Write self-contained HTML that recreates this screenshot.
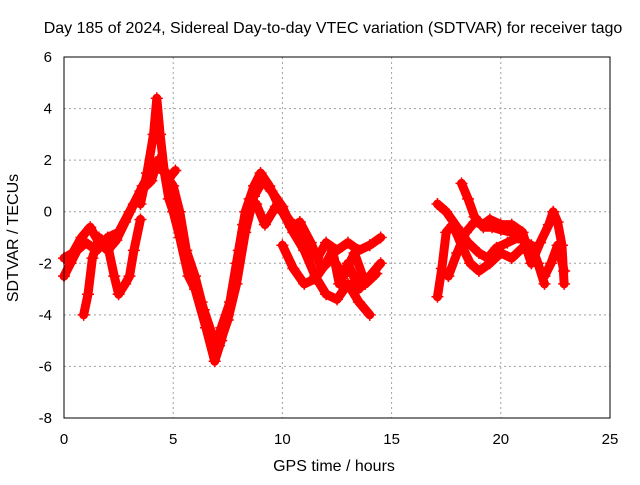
<!DOCTYPE html>
<html><head><meta charset="utf-8"><style>
body{margin:0;background:#fff}
svg{font-family:"Liberation Sans",sans-serif;font-size:15px}
</style></head><body>
<svg width="640" height="480" id="c">
<text x="333" y="33" text-anchor="middle" font-size="16">Day 185 of 2024, Sidereal Day-to-day VTEC variation (SDTVAR) for receiver tago</text>
<text x="334" y="471" text-anchor="middle" font-size="16">GPS time / hours</text>
<text transform="translate(18,238) rotate(-90)" text-anchor="middle" font-size="16">SDTVAR / TECUs</text>
<g id="grid"></g><g id="ticks"></g><g id="data"></g>
<rect x="64" y="57" width="546" height="361" fill="none" stroke="#000" stroke-width="1"/>
</svg>
<script>
const xTicks=[0,5,10,15,20,25];
const yTicks=[-8,-6,-4,-2,0,2,4,6];
const tA=[0,0.3,0.6,1,1.5,2,2.5,3,3.5,4,4.3,4.6,5,5.3,5.6,6,6.3,6.6,6.9,7.2,7.6,8,8.3,8.7,9,9.4,9.8,10.3,10.8,11.2,11.6,12,12.5,13,13.5,14,14.5];
const vA=[-2.5,-2,-1.5,-1.2,-1.5,-1,-0.8,0,0.8,1.2,2,1.5,1,0,-1.5,-2.5,-3.5,-4.5,-5.3,-4.5,-3.5,-1.5,0,1,1.5,1,0.3,-0.3,-1,-1.5,-1.8,-1.2,-1.5,-1.2,-1.5,-1.3,-1];
const tB=[3.5,3.8,4.1,4.25,4.4,4.6,4.8,5,5.3,5.7,6,6.5,6.9,7.2,7.5,7.9,8.2,8.5,8.8,9.2,9.7,10,10.5,11,11.5,12,12.5,13,13.5,14];
const vB=[0.3,1.5,3,4.4,3,1.5,0.5,0,-1,-2.5,-3,-4.5,-5.8,-5,-4,-2,-0.5,0.5,0.3,-0.5,0.2,0,-0.8,-1.5,-2.5,-3.2,-3.4,-2.8,-3.5,-4];
const tC=[0.9,1.1,1.3,1.6,2,2.3,2.5,2.8,3,3.2,3.5];
const vC=[-4,-3.2,-1.8,-1,-1.3,-2.5,-3.2,-2.8,-2.5,-1.5,-0.3];
const tD=[10,10.5,11,11.5,12,12.3,12.6,13,13.5,14,14.5];
const vD=[-1.3,-2.2,-2.8,-2.6,-2,-1.5,-2.8,-2,-3,-2.5,-2];
const tE=[17.1,17.3,17.5,17.8,18.2,18.6,19,19.5,20,20.5,21,21.4,21.7,22];
const vE=[-3.3,-2.2,-0.8,-0.5,-1.3,-2,-2.3,-2,-1.6,-1.8,-1.4,-1.3,-2,-2.8];
const tF=[17.1,17.5,18,18.5,19,19.4,19.8,20.3,20.8,21.2];
const vF=[0.3,0,-0.6,-1.2,-1.6,-1.8,-1.4,-1.2,-1,-1.2];
const tG=[18.2,18.5,18.8,19.2,19.6,20,20.5,21,21.4];
const vG=[1.1,0.5,-0.2,-0.6,-0.6,-0.7,-0.8,-1,-2];
const tH=[17.6,18,18.4,18.8,19.2,19.5,20,20.5,21,21.4,21.8,22.2,22.4,22.6,22.8,22.9];
const vH=[-2.5,-1.6,-0.8,-0.4,-0.5,-0.3,-0.5,-0.5,-0.8,-2,-1.2,-0.5,0,-0.4,-1.3,-2.8];
const tI=[22,22.3,22.6,22.9];
const vI=[-2.5,-2,-1.3,-2.3];
const tJ=[0,0.4,0.8,1.2,1.6,2,2.4,2.8,3.2,3.6,4,4.4,4.8,5.1];
const vJ=[-1.8,-1.6,-1,-0.6,-1.2,-1.5,-1.1,-0.4,0.3,1,1.6,1.9,1.3,1.6];
const tK=[5,5.3,5.7,6,6.4,6.8,7.1,7.5,7.9,8.3,8.7,9.1,9.5,10,10.4,10.8,11.3,11.8,12.3,12.8,13.3,13.8,14.3];
const vK=[0.8,-0.5,-2,-2.8,-3.8,-4.8,-5.2,-4.2,-2.8,-0.8,0.6,1.2,0.8,0.2,-0.6,-0.4,-1.2,-2.2,-1.8,-2.5,-1.6,-2.8,-2.4];
const series=[[tA,vA],[tB,vB],[tC,vC],[tD,vD],[tE,vE],[tF,vF],[tG,vG],[tH,vH],[tI,vI],[tJ,vJ],[tK,vK]];
const X=h=>64+h*21.84, Y=v=>57+(6-v)*25.786;
const NS="http://www.w3.org/2000/svg";
function mk(tag,attrs,parent){const e=document.createElementNS(NS,tag);for(const k in attrs)e.setAttribute(k,attrs[k]);parent.appendChild(e);return e;}
const grid=document.getElementById('grid'),ticks=document.getElementById('ticks'),data=document.getElementById('data');
xTicks.forEach(t=>{
 if(t>0&&t<25){const g=mk('line',{x1:X(t),x2:X(t),y1:57,y2:418,stroke:'#a0a0a0','stroke-dasharray':'2,3'},grid);
 
 }
 const l=mk('text',{x:X(t),y:444,'text-anchor':'middle'},ticks);l.textContent=t;
 
 
});
yTicks.forEach(t=>{
 if(t>-8&&t<6){const g=mk('line',{x1:64,x2:610,y1:Y(t),y2:Y(t),stroke:'#a0a0a0','stroke-dasharray':'2,3'},grid);
 
 }
 const l=mk('text',{x:52,y:Y(t)+5,'text-anchor':'end'},ticks);l.textContent=t;
 
 
});
series.forEach((s,i)=>{
 const [t,v]=s;
 const pl=mk('polyline',{points:t.map((h,j)=>X(h)+','+Y(v[j])).join(' '),fill:'none',stroke:'#ff0000','stroke-width':9,'stroke-linejoin':'round','stroke-linecap':'round'},data);
 
 
 t.forEach((h,j)=>{
  const p=mk('path',{d:`M${X(h)-6},${Y(v[j])}h12M${X(h)},${Y(v[j])-6}v12`,stroke:'#ff0000','stroke-width':1.5},data);
  
  
 });
});
</script>
</body></html>
